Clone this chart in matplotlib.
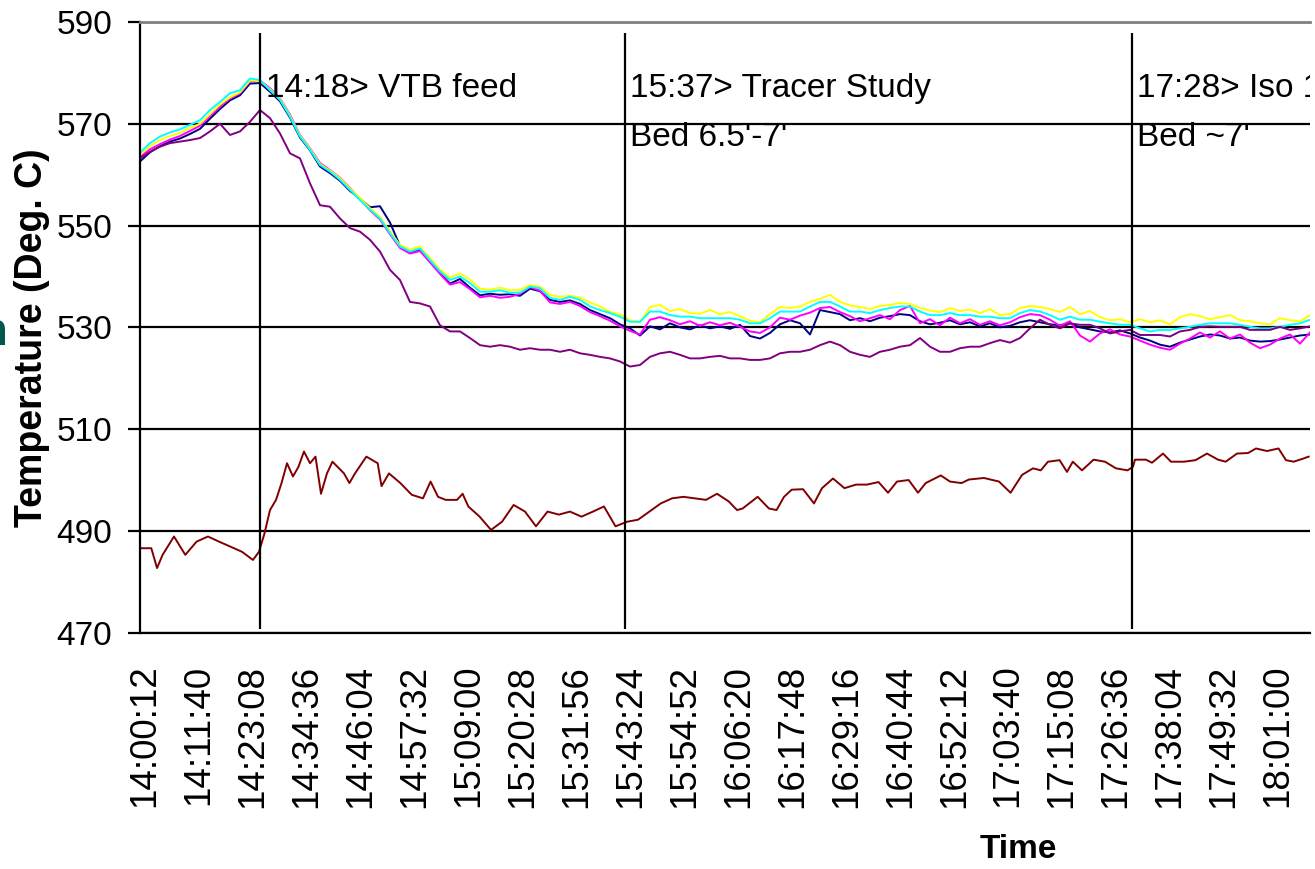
import numpy as np
import matplotlib.pyplot as plt

plt.rcParams['font.family'] = ['Liberation Sans', 'DejaVu Sans']

# bed thermocouples, logged every 127.4 s from the start of the window
cyan = [564.3, 566.2, 567.5, 568.3, 568.9, 569.8, 570.7, 572.7, 574.3, 576.0,
        576.6, 578.9, 578.6, 576.6, 574.7, 571.4, 567.5, 564.9, 561.9, 560.6,
        559.0, 557.0, 555.0, 553.1, 551.4, 548.5, 545.9, 544.9, 545.5, 543.2,
        541.0, 539.3, 540.0, 538.7, 537.0, 537.0, 537.3, 536.8, 536.8, 538.0,
        537.7, 535.8, 535.4, 536.0, 535.4, 534.1, 533.4, 532.8, 532.1, 531.1,
        531.1, 533.1, 533.1, 532.4, 532.1, 532.1, 531.8, 531.8, 531.8, 531.8,
        531.5, 530.8, 530.8, 531.8, 533.1, 533.1, 533.1, 534.1, 535.0, 535.0,
        534.1, 533.1, 533.1, 532.8, 533.4, 533.8, 534.1, 534.1, 533.1, 532.4,
        532.4, 532.8, 532.4, 532.4, 532.1, 532.1, 531.8, 531.8, 532.8, 533.4,
        533.1, 532.4, 531.5, 532.1, 531.5, 531.5, 531.1, 530.8, 530.5, 530.5,
        529.8, 529.2, 529.5, 529.5, 529.8, 530.1, 530.5, 530.8, 530.8, 530.8,
        530.5, 530.1, 529.8, 529.8, 530.1, 530.5, 530.8, 531.5]
yellow = [563.9, 565.6, 566.8, 567.6, 568.2, 569.2, 570.0, 571.9, 573.8, 575.2,
          576.2, 578.5, 578.4, 576.8, 574.9, 571.6, 567.7, 565.1, 562.1, 560.8,
          559.3, 557.3, 555.4, 553.4, 551.7, 548.8, 546.2, 545.3, 545.9, 543.6,
          541.4, 539.8, 540.6, 539.4, 537.6, 537.4, 537.8, 537.3, 537.4, 538.3,
          538.0, 536.4, 536.0, 536.2, 535.8, 534.9, 534.1, 533.0, 532.6, 531.4,
          531.0, 534.0, 534.4, 533.2, 533.6, 532.8, 532.7, 533.4, 532.6, 533.0,
          532.2, 531.3, 531.0, 532.6, 534.0, 533.8, 534.1, 535.0, 535.6, 536.4,
          535.0, 534.3, 534.0, 533.6, 534.2, 534.4, 534.8, 534.6, 533.8, 533.3,
          533.0, 533.8, 533.2, 533.5, 532.8, 533.6, 532.4, 532.6, 533.8, 534.2,
          534.0, 533.6, 533.0, 534.0, 532.6, 533.2, 532.0, 531.4, 531.6, 531.0,
          531.6, 531.0, 531.4, 530.6, 532.0, 532.6, 532.2, 531.6, 532.0, 532.4,
          531.4, 531.2, 530.8, 530.6, 531.8, 531.4, 531.2, 532.4]
navy = [562.6, 564.4, 565.6, 566.5, 567.1, 568.0, 569.0, 571.0, 572.9, 574.6,
        575.6, 577.9, 578.0, 576.3, 574.4, 571.2, 567.3, 564.8, 561.6, 560.3,
        558.8, 556.8, 555.3, 553.6, 553.8, 550.6, 546.0, 544.6, 545.2, 542.9,
        540.7, 538.6, 539.5, 537.8, 536.3, 536.6, 536.4, 536.5, 536.2, 537.6,
        537.1, 535.4, 535.0, 535.3, 534.6, 533.4, 532.6, 531.8, 530.6, 529.8,
        528.4, 530.2, 529.6, 530.8, 530.0, 529.6, 530.4, 529.8, 530.2, 529.7,
        530.5, 528.3, 527.8, 528.9, 530.6, 531.4, 530.8, 528.6, 533.4, 533.0,
        532.6, 531.4, 531.8, 531.2, 531.9, 532.2, 532.6, 532.4, 531.2, 530.6,
        530.9, 531.4, 530.6, 531.0, 530.2, 530.8, 530.0, 530.3, 531.0, 531.4,
        531.0, 530.6, 530.4, 530.8, 530.0, 529.6, 529.2, 529.0, 529.4, 528.8,
        528.0, 527.4, 526.6, 526.2, 527.0, 527.6, 528.2, 528.6, 528.4, 527.8,
        528.0, 527.4, 527.2, 527.3, 527.6, 528.0, 528.4, 528.6]
magenta = [563.5, 565.0, 566.0, 566.9, 567.6, 568.6, 569.6, 571.5, 573.4, 575.0,
           576.0, 578.3, 578.5, 577.0, 575.0, 571.8, 567.8, 565.2, 562.3, 560.9,
           559.4, 557.4, 555.2, 553.0, 551.2, 548.3, 545.6, 544.5, 545.0, 542.8,
           540.5, 538.4, 538.9, 537.5, 535.9, 536.2, 535.8, 536.0, 536.6, 537.9,
           537.2, 534.9, 534.6, 535.0, 534.2, 533.0, 532.2, 531.3, 530.2, 529.3,
           528.6, 531.5, 532.0, 531.4, 530.6, 531.2, 530.3, 531.0, 530.4, 530.9,
           530.1, 529.2, 528.9, 530.0, 531.9, 531.5, 532.3, 532.9, 533.8, 534.0,
           533.0, 532.2, 531.2, 531.8, 532.4, 531.6, 533.4, 534.2, 530.8, 531.6,
           530.4, 531.9, 530.8, 531.6, 530.5, 531.2, 530.4, 531.0, 532.0, 532.6,
           532.4, 531.5, 530.3, 531.2, 528.4, 527.2, 528.8, 529.6, 528.6, 528.2,
           527.4, 526.6, 526.0, 525.6, 526.8, 527.8, 529.0, 528.0, 529.2, 527.8,
           528.6, 527.0, 525.9, 526.6, 527.8, 528.6, 526.8, 529.0]
purple = [563.2, 564.5, 565.5, 566.2, 566.5, 566.8, 567.2, 568.5, 570.0, 567.8,
          568.5, 570.4, 572.7, 571.1, 568.1, 564.2, 563.2, 558.3, 554.0, 553.7,
          551.4, 549.5, 548.8, 547.2, 544.9, 541.3, 539.3, 535.0, 534.7, 534.1,
          530.4, 529.2, 529.2, 527.9, 526.5, 526.2, 526.5, 526.2, 525.6, 525.9,
          525.6, 525.6, 525.2, 525.6, 524.9, 524.6, 524.2, 523.9, 523.3, 522.3,
          522.6, 524.2, 524.9, 525.2, 524.6, 523.9, 523.9, 524.2, 524.4, 523.9,
          523.9, 523.6, 523.6, 523.9, 524.9, 525.2, 525.2, 525.6, 526.5, 527.2,
          526.5, 525.2, 524.6, 524.2, 525.2, 525.6, 526.2, 526.5, 527.9, 526.2,
          525.2, 525.2, 525.9, 526.2, 526.2, 526.9, 527.5, 527.0, 527.9, 529.8,
          531.5, 530.5, 529.8, 530.8, 530.5, 530.5, 529.8, 528.8, 529.2, 529.5,
          528.5, 528.5, 528.5, 528.2, 529.2, 529.5, 530.1, 530.2, 530.1, 530.1,
          530.1, 529.5, 529.5, 529.5, 530.1, 529.5, 529.8, 530.2]
t_bed = np.arange(len(cyan)) * 127.4

# lower thermocouple (maroon), irregular read-off times in s
t_low = [0, 144, 217, 288, 433, 577, 721, 866, 1006, 1154, 1299, 1439, 1516,
         1586, 1656, 1733, 1803, 1873, 1949, 2019, 2089, 2166, 2236, 2306,
         2382, 2452, 2599, 2668, 2739, 2884, 3028, 3077, 3172, 3317, 3462,
         3605, 3702, 3797, 3895, 4039, 4110, 4183, 4327, 4472, 4612, 4760,
         4905, 5045, 5192, 5338, 5478, 5625, 5771, 5911, 6058, 6204, 6345,
         6490, 6635, 6778, 6923, 7067, 7211, 7351, 7500, 7606, 7677, 7869,
         8013, 8110, 8205, 8303, 8447, 8587, 8689, 8829, 8975, 9122, 9262,
         9409, 9530, 9644, 9793, 9912, 10010, 10202, 10319, 10466, 10561,
         10753, 10944, 11091, 11237, 11377, 11476, 11568, 11716, 11810, 11884,
         12001, 12149, 12294, 12434, 12581, 12651, 12676, 12816, 12893, 13033,
         13135, 13301, 13447, 13594, 13734, 13832, 13976, 14116, 14218, 14358,
         14505, 14600, 14697, 14817, 14889]
maroon = [486.6, 486.6, 482.7, 485.3, 488.9, 485.3, 487.9, 488.9, 487.9, 486.9,
          485.9, 484.3, 485.9, 489.5, 494.1, 496.1, 499.4, 503.3, 500.7, 502.6,
          505.6, 503.3, 504.6, 497.3, 501.3, 503.6, 501.3, 499.4, 501.3, 504.6,
          503.3, 498.8, 501.3, 499.4, 497.1, 496.4, 499.7, 496.7, 496.1, 496.1,
          497.3, 494.8, 492.8, 490.2, 491.8, 495.1, 493.8, 490.9, 493.8, 493.2,
          493.8, 492.8, 493.8, 494.8, 490.9, 491.8, 492.2, 493.8, 495.4, 496.4,
          496.7, 496.4, 496.1, 497.3, 495.8, 494.1, 494.4, 496.7, 494.4, 494.1,
          496.7, 498.1, 498.2, 495.4, 498.4, 500.3, 498.4, 499.1, 499.1, 499.6,
          497.5, 499.7, 500.0, 497.5, 499.4, 500.9, 499.7, 499.4, 500.1, 500.4,
          499.7, 497.5, 501.0, 502.3, 501.9, 503.6, 503.9, 501.6, 503.6, 501.9,
          504.0, 503.6, 502.3, 501.9, 502.6, 504.0, 504.0, 503.4, 505.2, 503.6,
          503.6, 503.9, 505.2, 504.0, 503.6, 505.2, 505.3, 506.2, 505.7, 506.2,
          503.9, 503.6, 504.2, 504.6]

time_labels = ["14:00:12", "14:11:40", "14:23:08", "14:34:36", "14:46:04",
               "14:57:32", "15:09:00", "15:20:28", "15:31:56", "15:43:24",
               "15:54:52", "16:06:20", "16:17:48", "16:29:16", "16:40:44",
               "16:52:12", "17:03:40", "17:15:08", "17:26:36", "17:38:04",
               "17:49:32", "18:01:00"]
tick_pos = 60 + np.arange(len(time_labels)) * 687.6

event_t = [1529, 6179, 12638]
event_text = [["14:18> VTB feed"],
              ["15:37> Tracer Study", "Bed 6.5'-7'"],
              ["17:28> Iso 1", "Bed ~7'"]]

fig = plt.figure(figsize=(13.15, 8.69), dpi=100)
ax = fig.add_axes([140 / 1315, 1 - 632.7 / 869, 1170 / 1315, 610.7 / 869])

ax.set_axisbelow(True)
ax.grid(axis='y', color='black', lw=1.6)
ax.grid(axis='x', visible=False)

for vals, col in [(navy, '#000080'), (magenta, '#FF00FF'), (yellow, '#FFFF00'),
                  (cyan, '#00FFFF'), (purple, '#800080')]:
    ax.plot(t_bed, vals, color=col, lw=1.4)
ax.plot(t_low, maroon, color='#800000', lw=1.4)

ax.vlines(event_t, 470.8, 587.8, color='black', lw=1.6, zorder=5)
for t, lines in zip(event_t, event_text):
    for i, s in enumerate(lines):
        ax.text(t + 70, 575.3 - 9.7 * i, s, fontsize=24, va='baseline',
                ha='left', clip_on=True, zorder=6)

ax.set_xlim(0, 14906)
ax.set_ylim(470, 590)
ax.set_yticks(np.arange(470, 591, 20))
ax.set_xticks(tick_pos)
ax.set_xticklabels(time_labels, rotation=90, fontsize=26.5)
ax.tick_params(axis='x', length=0, pad=23)
ax.tick_params(axis='y', length=9, width=1.6, pad=11, labelsize=24)

for side in ['left', 'bottom']:
    ax.spines[side].set_color('black')
    ax.spines[side].set_linewidth(1.6)
ax.spines['right'].set_visible(False)
ax.spines['top'].set_color('#808080')
ax.spines['top'].set_linewidth(2)

fig.text(32 / 1315, 1 - 338 / 869, "Temperature (Deg. C)", rotation=90,
         fontsize=27, fontweight='bold', ha='center', va='center')
fig.text(1018 / 1315, 1 - 850 / 869, "Time", fontsize=24, fontweight='bold',
         ha='center', va='center')
# clipped slide title fragment at the left edge
fig.text(8 / 1315, 1 - 345 / 869, "n", fontsize=34, fontweight='bold',
         color='#00574B', ha='right', va='baseline')

fig.savefig("out.png", dpi=100)
